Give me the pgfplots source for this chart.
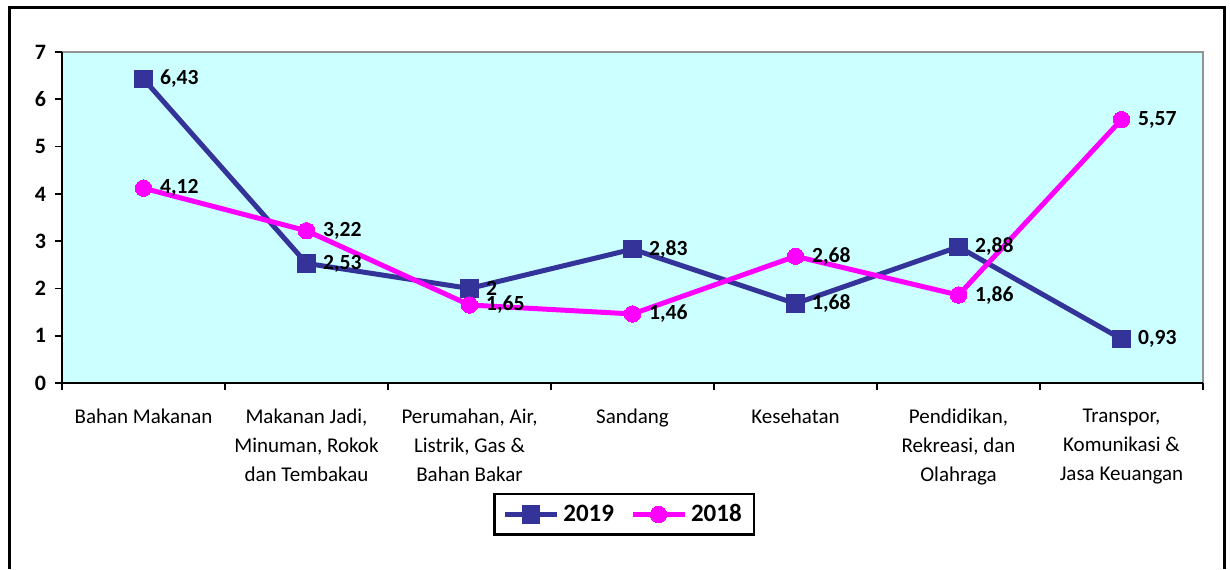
\documentclass[border=0pt]{standalone}
\usepackage{pgfplots}
\pgfplotsset{compat=1.18}
\usetikzlibrary{calc}
\usepackage{fontspec}
\setmainfont{Carlito}
\definecolor{bgcyan}{HTML}{CCFFFF}
\definecolor{navy}{HTML}{333399}
\definecolor{mag}{HTML}{FF00FF}
\begin{document}
\begin{tikzpicture}[x=1pt,y=1pt]
\begin{axis}[
  scale only axis, width=570.5pt, height=165.5pt,
  xmin=-0.5, xmax=6.5, ymin=0, ymax=7,
  axis background/.style={fill=bgcyan, draw=gray!85, line width=1pt},
  axis lines*=left,
  axis line style={black, line width=1.3pt, -},
  tick align=outside,
  tick style={black, line width=0.9pt},
  major tick length=3.5pt,
  minor tick length=3.5pt,
  ytick={0,1,...,7},
  yticklabel style={font=\fontsize{11}{12}\selectfont\bfseries, xshift=-1pt},
  /pgf/number format/assume math mode=true,
  xtick={0,...,6},
  major x tick style={draw=none},
  minor xtick={-0.5,0.5,...,6.5},
  xticklabels={Bahan Makanan, {Makanan Jadi,\\Minuman, Rokok\\dan Tembakau}, {Perumahan, Air,\\Listrik, Gas \&\\Bahan Bakar}, Sandang, Kesehatan, {Pendidikan,\\Rekreasi, dan\\Olahraga}, {Transpor,\\Komunikasi \&\\Jasa Keuangan}},
  xticklabel style={font=\fontsize{10.5}{14.5}\selectfont, align=center, anchor=north, yshift=-6pt},
  nodes near coords,
  every node near coord/.append style={font=\fontsize{10.8}{12}\selectfont\bfseries, anchor=west, xshift=5pt, text=black},
  /pgf/number format/.cd, use comma, precision=2, 1000 sep={},
  /pgfplots/.cd,
  legend columns=2,
  legend style={at={(0.4926,-0.397)}, anchor=center, draw=black, line width=1.2pt, font=\fontsize{12.5}{14}\selectfont\bfseries, inner xsep=4pt, inner ysep=3pt, /tikz/every even column/.append style={column sep=6pt}},
  legend image code/.code={\draw[#1, line width=2.5pt] (0pt,0pt) -- (26pt,0pt); \draw[#1, mark repeat=1] plot coordinates {(13pt,0pt)};},
]
\addplot[navy, line width=2.5pt, mark=square*, mark size=4.4pt, mark options={line width=0pt, fill=navy, draw=navy}] coordinates {
(0,6.43) (1,2.53) (2,2) (3,2.83) (4,1.68) (5,2.88) (6,0.93)};
\addlegendentry{2019}
\addplot[mag, line width=2.5pt, mark=*, mark size=4.1pt, mark options={line width=0pt, fill=mag, draw=mag}] coordinates {
(0,4.12) (1,3.22) (2,1.65) (3,1.46) (4,2.68) (5,1.86) (6,5.57)};
\addlegendentry{2018}
\coordinate (o) at (rel axis cs:0,0);
\end{axis}
\draw[black, line width=1.5pt] ($(o)+(-26.25,-93)$) -- ($(o)+(-26.25,188)$) -- ($(o)+(581,188)$) -- ($(o)+(581,-93)$);
\pgfresetboundingbox
\path[use as bounding box] ($(o)+(-31,-93)$) rectangle ($(o)+(584,191.5)$);
\end{tikzpicture}
\end{document}
